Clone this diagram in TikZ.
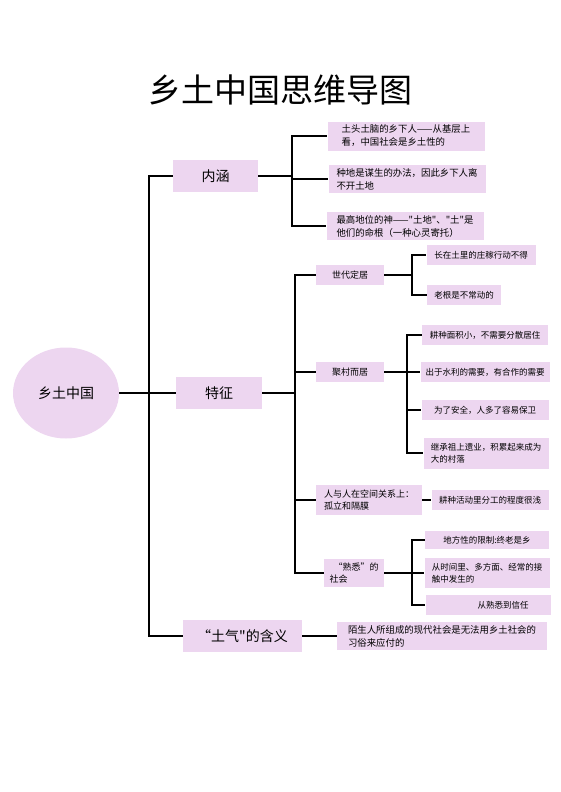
\documentclass[tikz,border=0pt]{standalone}
\usepackage{fontspec}
\newfontfamily\cjk{Noto Sans CJK SC}
\usepackage{tikz}
\usetikzlibrary{
  shapes.geometric,
  positioning
}
\definecolor{Lilac}{HTML}{EDD6F0}
\tikzset{
  % Central ellipse
  hub/.style={
    ellipse, fill=Lilac,
    minimum width=106pt, minimum height=91pt,
    font=\cjk\fontsize{14}{16}\selectfont
  },
  % First-level topic box
  topic/.style={
    rectangle, fill=Lilac,
    minimum width=#1, minimum height=32pt,
    font=\cjk\fontsize{14}{16}\selectfont
  },
  % Second-level box
  sub/.style={
    rectangle, fill=Lilac, inner sep=3pt,
    minimum width=#1, minimum height=20pt,
    align=left, font=\cjk\fontsize{9}{12}\selectfont
  },
  % Leaf box
  leaf/.style={
    rectangle, fill=Lilac, inner sep=3pt,
    minimum width=#1, minimum height=20pt,
    align=left, font=\cjk\fontsize{8.5}{12}\selectfont
  },
  % Larger leaf text
  bigleaf/.style={
    leaf=#1, font=\cjk\fontsize{9.4}{13}\selectfont
  },
  % Connector
  link/.style={draw=black, line width=1.4pt}
}

\begin{document}
\begin{tikzpicture}[x=1pt, y=-1pt]
  \useasboundingbox (0,0) rectangle (560,792);

  \node[font=\cjk\fontsize{33}{36}\selectfont] (title) at (280,90) {乡土中国思维导图};

  % Root and first level
  \node[hub] (root) at (66,393) {乡土中国};
  \node[topic=85pt]  (nh) at (215.5,176) {内涵};
  \node[topic=86pt]  (tz) at (219,393)   {特征};
  \node[topic=119pt] (tq) at (242.5,636) {“土气"的含义};

  % 内涵
  \node[bigleaf=157pt, minimum height=29pt] (nh1) at (406,136) {土头土脑的乡下人——从基层上\\看，中国社会是乡土性的};
  \node[bigleaf=157pt, minimum height=28pt] (nh2) at (407,179) {种地是谋生的办法，因此乡下人离\\不开土地};
  \node[bigleaf=157pt, minimum height=25pt] (nh3) at (405,226) {最高地位的神——"土地"、"土"是\\他们的命根（一种心灵寄托）};

  % 特征
  \node[sub=68pt]  (sd) at (350,275) {世代定居};
  \node[sub=68pt]  (jc) at (350,372) {聚村而居};
  \node[sub=106pt, minimum height=30pt] (rr) at (369,500) {人与人在空间关系上：\\孤立和隔膜};
  \node[sub=60pt, minimum height=28pt]  (sx) at (354,573) {\hspace*{4pt}“熟悉”的\\社会};

  \node[leaf=109pt] (sd1) at (481,255) {长在土里的庄稼行动不得};
  \node[leaf=74pt]  (sd2) at (464,295) {老根是不常动的};

  \node[leaf=126pt] (jc1) at (485,335) {耕种面积小，不需要分散居住};
  \node[leaf=129pt] (jc2) at (485,372) {出于水利的需要，有合作的需要};
  \node[leaf=127pt] (jc3) at (485,410) {为了安全，人多了容易保卫};
  \node[leaf=125pt, minimum height=31pt] (jc4) at (486,453) {继承祖上遗业，积累起来成为\\大的村落};

  \node[leaf=117pt] (rr1) at (490,500) {耕种活动里分工的程度很浅};

  \node[leaf=124pt, minimum height=18pt] (sx1) at (487,540) {地方性的限制:终老是乡};
  \node[leaf=125pt, minimum height=30pt] (sx2) at (487,573) {从时间里、多方面、经常的接\\触中发生的};
  \node[leaf=125pt] (sx3) at (488,605) {\hspace*{30pt}从熟悉到信任};

  % “土气”的含义
  \node[bigleaf=210pt, minimum height=25pt] (tq1) at (442,636) {陌生人所组成的现代社会是无法用乡土社会的\\习俗来应付的};

  % Junctions
  \coordinate (rootJ) at (149,393);
  \coordinate (nhJ)   at (292,176);
  \coordinate (tzJ)   at (295,393);
  \coordinate (sdJ)   at (412,275);
  \coordinate (jcJ)   at (407,372);
  \coordinate (sxJ)   at (412,573);

  % Connectors
  \draw[link] (root) -- (rootJ);
  \foreach \n in {nh,tz,tq} \draw[link] (rootJ) |- (\n);
  \draw[link] (nh) -- (nhJ);
  \foreach \n in {nh1,nh2,nh3} \draw[link] (nhJ) |- (\n);
  \draw[link] (tz) -- (tzJ);
  \foreach \n in {sd,jc,rr,sx} \draw[link] (tzJ) |- (\n);
  \draw[link] (sd) -- (sdJ);
  \foreach \n in {sd1,sd2} \draw[link] (sdJ) |- (\n);
  \draw[link] (jc) -- (jcJ);
  \foreach \n in {jc1,jc2,jc3,jc4} \draw[link] (jcJ) |- (\n);
  \draw[link] (rr) -- (rr1);
  \draw[link] (sx) -- (sxJ);
  \foreach \n in {sx1,sx2,sx3} \draw[link] (sxJ) |- (\n);
  \draw[link] (tq) -- (tq1);
\end{tikzpicture}
\end{document}
